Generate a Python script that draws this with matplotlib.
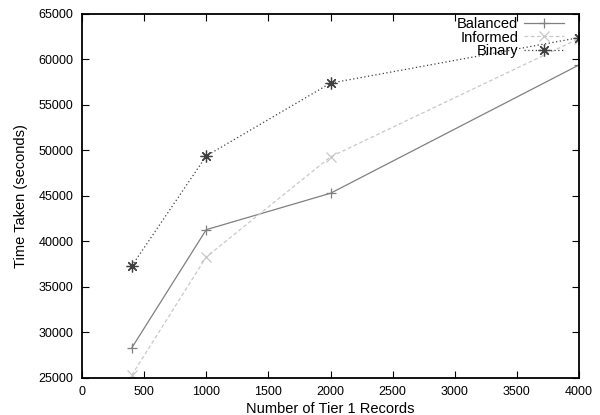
import matplotlib
matplotlib.use("Agg")
import matplotlib.pyplot as plt

plt.rcParams['font.family'] = ['Liberation Sans', 'DejaVu Sans']

records = [400, 1000, 2000, 4000]
balanced = [28300, 41300, 45300, 59400]
informed = [25300, 38300, 49300, 62300]
binary = [37300, 49400, 57400, 62400]

fig = plt.figure(figsize=(6.0, 4.15), dpi=100)
ax = fig.add_axes([0.1367, 0.0892, 0.8283, 0.8771])

ax.plot(records, balanced, color='#808080', lw=0.9, ls='-',
        marker='+', ms=7.5, mew=0.9, label='Balanced')
ax.plot(records, informed, color='#c8c8c8', lw=0.9, ls=(0, (3, 2)),
        marker='x', ms=6.5, mew=0.9, label='Informed')
ax.plot(records, binary, color='#404040', lw=0.9, ls=(0, (1, 2)),
        marker=(8, 2, 0), ms=8.5, mew=0.9, label='Binary')

ax.set_xlim(0, 4000)
ax.set_ylim(25000, 65000)
ax.set_xticks(range(0, 4001, 500))
ax.set_yticks(range(25000, 65001, 5000))
ax.tick_params(direction='in', top=True, right=True, labelsize=9,
               length=5, width=0.8, pad=6)
for s in ax.spines.values():
    s.set_linewidth(1.3)

ax.set_xlabel('Number of Tier 1 Records', fontsize=10.5, labelpad=3)
ax.set_ylabel('Time Taken (seconds)', fontsize=10.5, labelpad=8)

leg = ax.legend(loc='upper right', bbox_to_anchor=(0.972, 0.995),
                markerfirst=False, frameon=False, fontsize=10.5,
                handlelength=2.7, handletextpad=0.4, labelspacing=-0.05,
                borderaxespad=0.0, borderpad=0.1)

fig.savefig('out.png', dpi=100)
